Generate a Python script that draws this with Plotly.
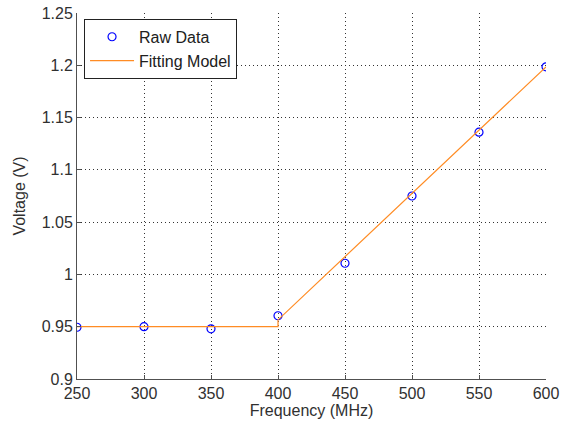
import plotly.graph_objects as go

freq = [250, 300, 350, 400, 450, 500, 550, 600]
voltage = [0.9495, 0.950, 0.948, 0.9605, 1.0107, 1.075, 1.136, 1.1985]

fit_x = [250, 400, 400, 600]
fit_y = [0.950, 0.950, 0.9565, 1.1985]

x_ticks = [250, 300, 350, 400, 450, 500, 550, 600]
y_ticks = [0.9, 0.95, 1.0, 1.05, 1.1, 1.15, 1.2, 1.25]
y_tick_text = ["0.9", "0.95", "1", "1.05", "1.1", "1.15", "1.2", "1.25"]

FONT = "Liberation Sans, Arial"
TXT = "#303030"

fig = go.Figure()
fig.add_trace(go.Scatter(
    x=freq, y=voltage, mode="markers", name="Raw Data",
    marker=dict(symbol="circle-open", size=8, color="#0000ff", line=dict(width=1.2, color="#0000ff")),
))
fig.add_trace(go.Scatter(
    x=fit_x, y=fit_y, mode="lines", name="Fitting Model",
    line=dict(color="#ff8c24", width=1.2),
))

axis_common = dict(
    showline=True, linecolor="#505050", linewidth=1,
    ticks="inside", ticklen=4, tickcolor="#505050",
    showgrid=True, gridcolor="#333333", griddash="1px,3px", gridwidth=1,
    zeroline=False, automargin=False,
    tickfont=dict(family=FONT, size=16, color=TXT),
)

fig.update_xaxes(
    range=[250, 600], tickvals=x_ticks,
    title=dict(text="Frequency (MHz)", font=dict(family=FONT, size=16, color=TXT), standoff=2),
    **axis_common,
)
fig.update_yaxes(
    range=[0.9, 1.25], tickvals=y_ticks, ticktext=y_tick_text,
    title=dict(text="Voltage (V)", font=dict(family=FONT, size=16, color=TXT), standoff=12),
    **axis_common,
)

fig.update_layout(
    width=574, height=432,
    margin=dict(l=77, r=28, t=13, b=53),
    plot_bgcolor="white", paper_bgcolor="white",
    showlegend=True,
    legend=dict(
        x=0.015, y=0.984, xanchor="left", yanchor="top",
        bgcolor="white", bordercolor="#222222", borderwidth=1,
        font=dict(family=FONT, size=16, color="#202020"),
        tracegroupgap=0, itemwidth=44,
    ),
)

fig.write_html("out.html")
